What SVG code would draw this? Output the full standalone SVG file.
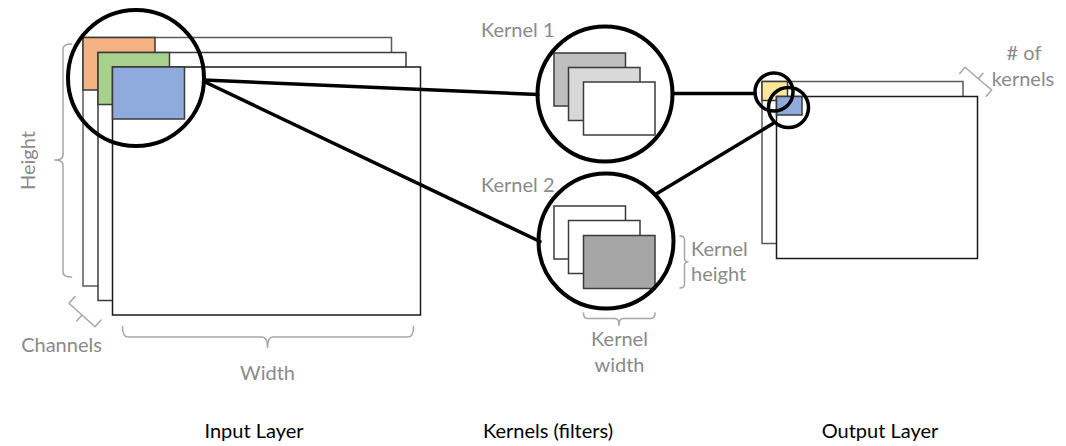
<svg xmlns="http://www.w3.org/2000/svg" width="1066" height="446" viewBox="0 0 1066 446">
<style>
.frame{stroke:#3a3a3a;stroke-width:1.5}
.back{stroke:#5a5a5a}
.front{stroke:#1a1a1a}
.patch{stroke:#3a3a3a;stroke-width:1.5}
.lens{fill:none;stroke:#000;stroke-width:4}
.lens-s{fill:none;stroke:#000;stroke-width:3.5}
.conn{stroke:#000;stroke-width:3.5;fill:none;stroke-linecap:round}
.brace{fill:none;stroke:#a6a6a6;stroke-width:1.5;stroke-linejoin:round;stroke-linecap:round}
.lbl{font-family:Lato,"Liberation Sans",sans-serif;font-size:20px;fill:#8a8a8a}
.title{font-family:Lato,"Liberation Sans",sans-serif;font-size:20px;fill:#000;text-anchor:middle}
</style>
<rect width="1066" height="446" fill="#fff"/>
<g id="input-layer">
<rect class="frame back" x="83" y="37.5" width="308.5" height="248.5" fill="#fff"/>
<rect class="patch" x="83" y="37.5" width="72" height="52.5" fill="#f4b183"/>
<rect class="frame" x="98" y="52.5" width="308" height="248" fill="#fff"/>
<rect class="patch" x="98" y="52.5" width="71.5" height="52" fill="#a9d18e"/>
<rect class="frame front" x="112.5" y="67" width="308" height="248" fill="#fff"/>
<rect class="patch" x="112.5" y="67" width="72" height="52" fill="#8faadc"/>
<circle class="lens" cx="136" cy="78" r="68"/>
<path class="brace" d="M71.5,44 Q63,44 63,49 V155 Q63,160 55,160 Q63,160 63,165 V272 Q63,277 71.5,277"/>
<text class="lbl" text-anchor="middle" transform="translate(35,160.5) rotate(-90)">Height</text>
<path class="brace" d="M122.5,326.5 Q122.5,337 128,337 H262 Q267.5,337 267.5,347.5 Q267.5,337 273,337 H408 Q413.5,337 413.5,326.5"/>
<text class="lbl" x="267.5" y="380" text-anchor="middle">Width</text>
<path class="brace" d="M75,296.6 L69,303.3 L82,315 L76.6,320.9 M82,315 L95,326.7 L101,320"/>
<text class="lbl" x="61.5" y="351.5" text-anchor="middle">Channels</text>
</g>
<g id="kernel-1">
<rect class="frame" x="554" y="53" width="71.5" height="53" fill="#bfbfbf"/>
<rect class="frame" x="568.5" y="67.5" width="71.5" height="53" fill="#d9d9d9"/>
<rect class="frame" x="583.5" y="82" width="71.5" height="53" fill="#fff"/>
<circle class="lens" cx="605" cy="94" r="67.5"/>
<text class="lbl" x="481" y="36.5">Kernel 1</text>
</g>
<g id="kernel-2">
<rect class="frame" x="554" y="206" width="71.5" height="53" fill="#fff"/>
<rect class="frame" x="568.5" y="220.5" width="71.5" height="53" fill="#fff"/>
<rect class="frame" x="583.5" y="235.5" width="71.5" height="53" fill="#a6a6a6"/>
<circle class="lens" cx="606" cy="241" r="67.5"/>
<text class="lbl" x="481" y="191.5">Kernel 2</text>
<path class="brace" d="M680,236 Q684.5,236 684.5,240 V258 Q684.5,261.7 688,261.7 Q684.5,261.7 684.5,265.5 V284 Q684.5,288 680,288"/>
<text class="lbl" x="691" y="255.5">Kernel</text>
<text class="lbl" x="691" y="280.5">height</text>
<path class="brace" d="M583.5,313 Q583.5,318.5 587.5,318.5 H615 Q619,318.5 619,325.5 Q619,318.5 623,318.5 H651 Q655,318.5 655,313"/>
<text class="lbl" x="619.5" y="346" text-anchor="middle">Kernel</text>
<text class="lbl" x="619.5" y="371.5" text-anchor="middle">width</text>
</g>
<g id="output-layer">
<rect class="frame back" x="762" y="81.5" width="201" height="162" fill="#fff"/>
<rect class="patch" x="762" y="81.5" width="25.5" height="19" fill="#ffe699"/>
<rect class="frame front" x="776.5" y="96.5" width="201" height="162" fill="#fff"/>
<rect class="patch" x="776.5" y="96.5" width="25.5" height="18.5" fill="#8faadc"/>
<circle class="lens-s" cx="774" cy="92" r="19"/>
<circle class="lens-s" cx="788.5" cy="107.5" r="20"/>
<path class="brace" d="M959.8,73.4 L965,67.3 L978.3,78.7 L982.9,73.4 M978.3,78.7 L991.7,90 L986.5,96.1"/>
<text class="lbl" x="1024" y="59.5" text-anchor="middle"># of</text>
<text class="lbl" x="1023" y="85.5" text-anchor="middle">kernels</text>
</g>
<g id="connectors">
<line class="conn" x1="204" y1="80" x2="538" y2="94.5"/>
<line class="conn" x1="205" y1="82" x2="540" y2="241.5"/>
<line class="conn" x1="672.5" y1="93.5" x2="755" y2="93.5"/>
<line class="conn" x1="657" y1="193.5" x2="773" y2="123.5"/>
</g>
<g id="titles">
<text class="title" x="254" y="437.5">Input Layer</text>
<text class="title" x="548" y="437.5">Kernels (filters)</text>
<text class="title" x="880" y="437.5">Output Layer</text>
</g>
</svg>
